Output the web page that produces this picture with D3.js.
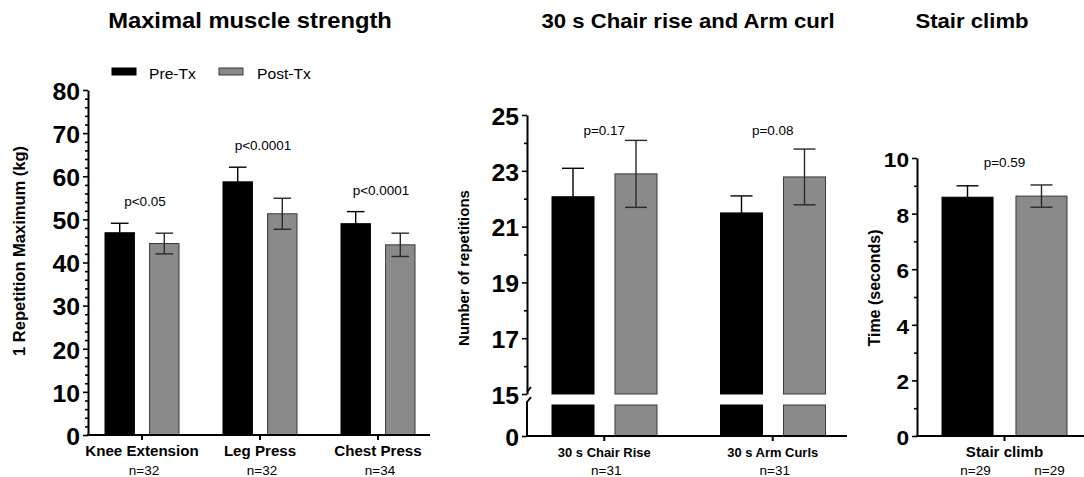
<!DOCTYPE html>
<html>
<head>
<meta charset="utf-8">
<script src="https://cdn.jsdelivr.net/npm/d3@7"></script>
<style>
  body { margin: 0; background: #fff; }
  svg { display: block; font-family: "Liberation Sans", Arial, sans-serif; }
</style>
</head>
<body>
<svg id="chart" width="1084" height="477"></svg>
<script>
// ---- data ----
var series = ["Pre-Tx", "Post-Tx"];

// maximal muscle strength (1RM, kg)
var strengthCats = ["Knee Extension", "Leg Press", "Chest Press"];
var strengthPre = [46.9, 58.7, 49.0];
var strengthPreErr = [2.2, 3.4, 2.8];
var strengthPost = [44.4, 51.3, 44.1];
var strengthPostErr = [2.4, 3.6, 2.7];
var strengthP = ["p<0.05", "p<0.0001", "p<0.0001"];
var strengthN = ["n=32", "n=32", "n=34"];
var strengthTicks = [0, 10, 20, 30, 40, 50, 60, 70, 80];

// 30 s chair rise / arm curl (repetitions)
var funcCats = ["30 s Chair Rise", "30 s Arm Curls"];
var funcPre = [22.07, 21.49];
var funcPreErr = [1.02, 0.61];
var funcPost = [22.89, 22.78];
var funcPostErr = [1.2, 1.0];
var funcP = ["p=0.17", "p=0.08"];
var funcN = ["n=31", "n=31"];
var funcTicks = [15, 17, 19, 21, 23, 25];

// stair climb (seconds)
var stairCats = ["Stair climb"];
var stairPre = [8.59];
var stairPreErr = [0.41];
var stairPost = [8.63];
var stairPostErr = [0.4];
var stairP = ["p=0.59"];
var stairN = ["n=29", "n=29"];
var stairTicks = [0, 2, 4, 6, 8, 10];

var colors = { "Pre-Tx": "#000", "Post-Tx": "#8a8a8a" };
var errColors = { "Pre-Tx": "#000", "Post-Tx": "#2a2a2a" };
var SX = 1.08; // glyphs in the figure are a bit wider than Arial

var svg = d3.select("#chart");

function label(g, x, y, str, size, weight, anchor) {
  return g.append("text")
    .attr("transform", "translate(" + x + "," + y + ") scale(" + SX + ",1)")
    .attr("text-anchor", anchor || "middle")
    .style("font-size", size + "px")
    .style("font-weight", weight || "normal")
    .text(str);
}

function vlabel(g, x, y, str, size) {
  g.append("text")
    .attr("transform", "translate(" + x + "," + y + ") rotate(-90)")
    .attr("text-anchor", "middle")
    .style("font-size", size + "px")
    .style("font-weight", "bold")
    .text(str);
}

function yAxis(g, o, scale, ticks) {
  var ax = g.append("g").attr("transform", "translate(" + o.axisX + ",0)")
    .call(d3.axisLeft(scale).tickValues(ticks).tickSize(5).tickSizeOuter(0).tickPadding(3));
  ax.select(".domain").attr("stroke-width", 2);
  ax.selectAll(".tick line").attr("stroke-width", 1.6);
  ax.selectAll(".tick text")
    .attr("fill", "#000")
    .attr("x", -8 / SX)
    .attr("dy", null)
    .attr("y", 0.36 * o.tickFs + 1)
    .attr("transform", "scale(" + SX + ",1)")
    .style("font-size", o.tickFs + "px")
    .style("font-weight", "bold")
    .style("font-family", "inherit");
  return ax;
}

function panel(o) {
  var g = svg.append("g");
  var x0 = d3.scaleBand().domain(o.cats).range(o.xRange);
  var x1 = d3.scaleBand().domain(series).range(o.inner).paddingInner(o.pad);
  var y = d3.scaleLinear().domain(o.yDomain).range(o.yRange);
  var yBase = y(o.yDomain[0]);
  var bw = x1.bandwidth();

  var rows = [];
  o.cats.forEach(function(c, i) {
    rows.push({ cat: c, s: "Pre-Tx", v: o.pre[i], e: o.preErr[i] });
    rows.push({ cat: c, s: "Post-Tx", v: o.post[i], e: o.postErr[i] });
  });

  // bars
  g.selectAll("rect.bar").data(rows).enter().append("rect")
    .attr("class", "bar")
    .attr("x", function(d) { return x0(d.cat) + x1(d.s); })
    .attr("width", bw)
    .attr("y", function(d) { return y(d.v); })
    .attr("height", function(d) { return yBase - y(d.v); })
    .attr("fill", function(d) { return colors[d.s]; })
    .attr("stroke", function(d) { return d.s == "Pre-Tx" ? "#000" : "#3a3a3a"; })
    .attr("stroke-width", 1);

  // lower piece below the axis break
  if (o.low) {
    var yLow = d3.scaleLinear().domain(o.low.domain).range(o.low.range);
    g.selectAll("rect.low").data(rows).enter().append("rect")
      .attr("class", "low")
      .attr("x", function(d) { return x0(d.cat) + x1(d.s); })
      .attr("width", bw)
      .attr("y", yLow(o.low.domain[1]))
      .attr("height", yLow(0) - yLow(o.low.domain[1]))
      .attr("fill", function(d) { return colors[d.s]; })
      .attr("stroke", function(d) { return d.s == "Pre-Tx" ? "#000" : "#3a3a3a"; })
      .attr("stroke-width", 1);
  }

  // error bars (mean +/- SEM)
  var cap = Math.min(bw * 0.3, 11);
  var eb = g.selectAll("g.err").data(rows).enter().append("g")
    .attr("class", "err")
    .attr("stroke", function(d) { return errColors[d.s]; })
    .attr("stroke-width", 1.4);
  function cx(d) { return x0(d.cat) + x1(d.s) + bw / 2; }
  eb.append("line")
    .attr("x1", cx).attr("x2", cx)
    .attr("y1", function(d) { return y(d.v - d.e); })
    .attr("y2", function(d) { return y(d.v + d.e); });
  [1, -1].forEach(function(sg) {
    eb.append("line")
      .attr("x1", function(d) { return cx(d) - cap; })
      .attr("x2", function(d) { return cx(d) + cap; })
      .attr("y1", function(d) { return y(d.v + sg * d.e); })
      .attr("y2", function(d) { return y(d.v + sg * d.e); });
  });

  // p values
  o.cats.forEach(function(c, i) {
    var top = Math.max(o.pre[i] + o.preErr[i], o.post[i] + o.postErr[i]);
    var py = o.pAt != null ? y(o.pAt) : y(top) - o.pOffset;
    label(g, x0(c) + x0.bandwidth() / 2 + o.pShift, py, o.p[i], 12.5);
  });

  // y axis
  var minor = d3.range(o.yDomain[0], o.yDomain[1] + 0.001, o.minorStep)
    .filter(function(t) { return o.ticks.indexOf(t) < 0; });
  g.append("g").attr("transform", "translate(" + o.axisX + ",0)")
    .call(d3.axisLeft(y).tickValues(minor).tickSize(3).tickFormat(""))
    .call(function(a) { a.select(".domain").remove(); a.selectAll("line").attr("stroke-width", 1.6); });
  yAxis(g, o, y, o.ticks);

  if (o.low) {
    var yl = d3.scaleLinear().domain(o.low.domain).range(o.low.range);
    var la = yAxis(g, o, yl, [0]);
    la.select(".domain").remove();
    // axis break marks
    var ax = o.axisX;
    g.append("path")
      .attr("d", "M" + ax + "," + yl(0) + "V" + (o.low.range[1] - 3) +
                 "L" + (ax + 4) + "," + (o.low.range[1] - 8))
      .attr("fill", "none").attr("stroke", "#000").attr("stroke-width", 2);
    g.append("path")
      .attr("d", "M" + ax + "," + (yBase - 2) + "L" + (ax + 4) + "," + (yBase - 7))
      .attr("fill", "none").attr("stroke", "#000").attr("stroke-width", 2);
  }

  // x axis
  var xb = o.low ? o.low.range[0] : yBase;
  g.append("g").attr("transform", "translate(0," + xb + ")")
    .call(d3.axisBottom(x0).tickSize(5).tickFormat(""))
    .call(function(a) { a.select(".domain").remove(); a.selectAll("line").attr("stroke-width", 2); });
  g.append("line")
    .attr("x1", o.axisX - 1).attr("x2", o.xEnd)
    .attr("y1", xb).attr("y2", xb)
    .attr("stroke", "#000").attr("stroke-width", 2);

  // category and n labels
  o.cats.forEach(function(c, i) {
    var mid = x0(c) + x0.bandwidth() / 2;
    label(g, mid, o.catY, c, o.catFs, "bold");
    if (!o.nPerBar) label(g, mid + 2, o.nY, o.n[i], 12.5);
  });
  if (o.nPerBar) {
    series.forEach(function(s, j) {
      label(g, x0(o.cats[0]) + x1(s) + bw / 2 + 8, o.nY, o.n[j], 12.5);
    });
  }

  vlabel(g, o.yLabelX, o.yLabelY, o.yLabel, o.yLabelFs);
  label(g, o.titleX, 28, o.title, o.titleFs, "bold");
}

panel({
  title: "Maximal muscle strength", titleX: 250, titleFs: 22,
  cats: strengthCats, pre: strengthPre, preErr: strengthPreErr,
  post: strengthPost, postErr: strengthPostErr, p: strengthP, n: strengthN,
  ticks: strengthTicks, minorStep: 2,
  yDomain: [0, 80], yRange: [435, 90],
  xRange: [83, 437], inner: [22, 96], pad: 0.34,
  axisX: 88, xEnd: 430, pOffset: 17, pShift: 3,
  tickFs: 23, catFs: 14, catY: 456, nY: 474.5,
  yLabel: "1 Repetition Maximum (kg)", yLabelX: 25, yLabelY: 251, yLabelFs: 16.5
});

panel({
  title: "30 s Chair rise and Arm curl", titleX: 688, titleFs: 20.5,
  cats: funcCats, pre: funcPre, preErr: funcPreErr,
  post: funcPost, postErr: funcPostErr, p: funcP, n: funcN,
  ticks: funcTicks, minorStep: 1,
  yDomain: [15, 25], yRange: [394, 115],
  low: { domain: [0, 15], range: [436, 405] },
  xRange: [520, 857], inner: [32, 137], pad: 0.333,
  axisX: 527, xEnd: 847, pAt: 24.3, pShift: 0,
  tickFs: 23, catFs: 12, catY: 457, nY: 474.5,
  yLabel: "Number of repetitions", yLabelX: 469, yLabelY: 268, yLabelFs: 15
});

panel({
  title: "Stair climb", titleX: 972, titleFs: 20.5,
  cats: stairCats, pre: stairPre, preErr: stairPreErr,
  post: stairPost, postErr: stairPostErr, p: stairP, n: stairN, nPerBar: true,
  ticks: stairTicks, minorStep: 1,
  yDomain: [0, 10], yRange: [436, 158],
  xRange: [917, 1092], inner: [25, 150], pad: 0.31,
  axisX: 917, xEnd: 1084, pOffset: 18, pShift: 0,
  tickFs: 21, catFs: 14, catY: 457, nY: 474.5,
  yLabel: "Time (seconds)", yLabelX: 880, yLabelY: 288, yLabelFs: 16
});

// legend
var leg = svg.append("g");
[[112, 149], [219, 257]].forEach(function(p, i) {
  leg.append("rect").attr("x", p[0]).attr("y", 68).attr("width", 24).attr("height", 7)
    .attr("fill", colors[series[i]]).attr("stroke", i ? "#3a3a3a" : "#000");
  label(leg, p[1], 78.5, series[i], 14.5, "normal", "start");
});
</script>
</body>
</html>
